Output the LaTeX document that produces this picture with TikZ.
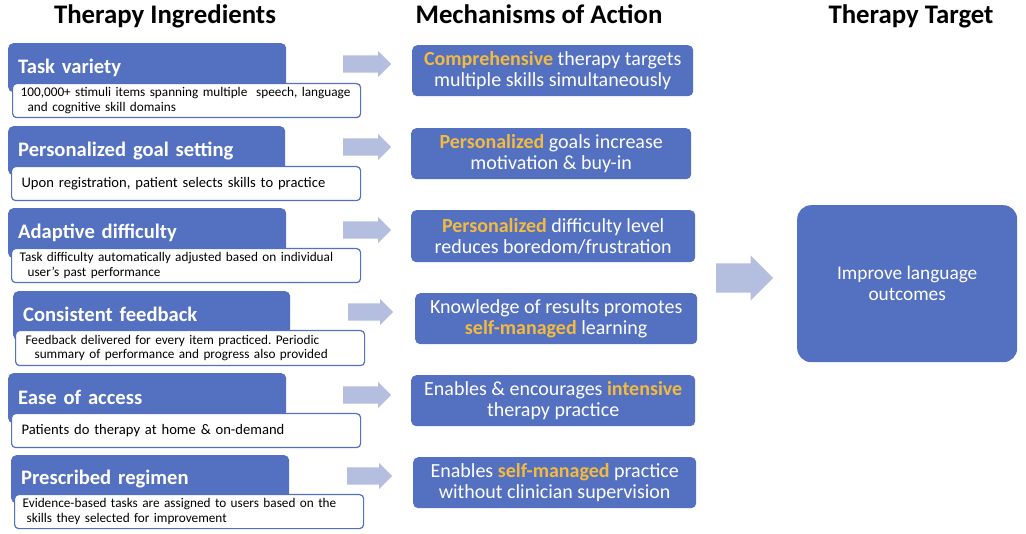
\documentclass[tikz,border=0pt]{standalone}
\usepackage{fontspec}
\setmainfont{Carlito}
\usetikzlibrary{shapes.arrows}
\definecolor{boxblue}{RGB}{84,112,192}
\definecolor{gold}{RGB}{242,186,64}
\definecolor{arrowc}{RGB}{180,190,222}
\newcommand{\gw}[1]{\textcolor{gold}{\bfseries #1}}
\frenchspacing
\begin{document}
\begin{tikzpicture}[x=1pt,y=-1pt,
 hdr/.style={fill=boxblue, rounded corners=5pt, anchor=north west, text=white,
   font=\fontsize{20.6}{24}\selectfont\bfseries, align=left, inner xsep=10pt, inner ysep=0pt},
 det/.style={fill=white, draw=boxblue, line width=1.2pt, rounded corners=4pt, anchor=north west,
   align=left, inner xsep=8pt, inner ysep=0pt, font=\fontsize{13.25}{14.5}\selectfont},
 detbig/.style={det, font=\fontsize{14.6}{17}\selectfont},
 mech/.style={fill=boxblue, rounded corners=5pt, anchor=north west, text=white, align=center,
   font=\fontsize{20}{20.5}\selectfont, inner sep=0pt},
 blk/.style={single arrow, fill=arrowc, draw=none, inner xsep=0pt, inner ysep=8.5pt,
   single arrow head extend=4.5pt, minimum height=48pt, anchor=west},
 ttl/.style={font=\fontsize{26.8}{30}\selectfont\bfseries, anchor=base, inner sep=0pt}
]
\path[use as bounding box, fill=white] (0,0) rectangle (1026,534);

% titles
\node[ttl] (t1) at (165,24) {Therapy Ingredients};
\node[ttl] (t2) at (539,24) {Mechanisms of Action};
\node[ttl] (t3) at (911,24) {Therapy Target};

% ingredient headers
\node[hdr, text width=258pt, minimum height=49pt] (h1) at (8,43) {\raisebox{2pt}{Task variety}};
\node[hdr, text width=257pt, minimum height=49pt] (h2) at (8,126) {\raisebox{2pt}{Personalized goal setting}};
\node[hdr, text width=258pt, minimum height=50pt] (h3) at (8,208) {\raisebox{2pt}{Adaptive difficulty}};
\node[hdr, text width=257pt, minimum height=49pt] (h4) at (13,291) {\raisebox{2pt}{Consistent feedback}};
\node[hdr, text width=258pt, minimum height=50pt] (h5) at (8,373) {\raisebox{2pt}{Ease of access}};
\node[hdr, text width=258pt, minimum height=48pt] (h6) at (11,455) {\raisebox{2pt}{Prescribed regimen}};

% detail boxes
\node[det, text width=332pt, minimum height=34pt] (d1) at (12,83)
  {100,000+ stimuli items spanning multiple\ \ speech, language\\\hspace*{7pt}and cognitive skill domains};
\node[detbig, text width=333pt, minimum height=34pt] (d2) at (11,166)
  {\hspace*{2pt}Upon registration, patient selects skills to practice};
\node[det, text width=333pt, minimum height=34pt] (d3) at (11,248)
  {Task difficulty automatically adjusted based on individual\\\hspace*{8pt}user’s past performance};
\node[det, text width=333pt, minimum height=35pt] (d4) at (15,330)
  {\hspace*{2pt}Feedback delivered for every item practiced. Periodic\\\hspace*{11pt}summary of performance and progress also provided};
\node[detbig, text width=333pt, minimum height=34pt] (d5) at (11,413)
  {\hspace*{2pt}Patients do therapy at home \& on-demand};
\node[det, text width=333pt, minimum height=34pt] (d6) at (14,494)
  {Evidence-based tasks are assigned to users based on the\\\hspace*{4pt}skills they selected for improvement};

% small arrows
\node[blk] (a1) at (343,64) {};
\node[blk] (a2) at (343,147) {};
\node[blk] (a3) at (343,230) {};
\node[blk, minimum height=45pt] (a4) at (348,312) {};
\node[blk] (a5) at (343,395) {};
\node[blk, minimum height=45pt] (a6) at (347,476) {};

% mechanisms
\node[mech, minimum width=281pt, minimum height=51pt] (m1) at (412,45)
  {\gw{Comprehensive} therapy targets\\multiple skills simultaneously};
\node[mech, minimum width=280pt, minimum height=51pt] (m2) at (411,128)
  {\gw{Personalized} goals increase\\motivation \& buy-in};
\node[mech, minimum width=284pt, minimum height=52pt] (m3) at (411,210)
  {\gw{Personalized} difficulty level\\reduces boredom/frustration};
\node[mech, minimum width=282pt, minimum height=51pt] (m4) at (415,293)
  {Knowledge of results promotes\\\gw{self-managed} learning};
\node[mech, minimum width=284pt, minimum height=51pt] (m5) at (411,375)
  {Enables \& encourages \gw{intensive}\\therapy practice};
\node[mech, minimum width=283pt, minimum height=51pt] (m6) at (413,457)
  {Enables \gw{self-managed} practice\\without clinician supervision};

% big arrow and target
\node[blk, inner ysep=14.5pt, single arrow head extend=8pt, minimum height=57pt] (ab) at (716,278) {};
\node[mech, rounded corners=14pt, minimum width=220pt, minimum height=157pt,
  font=\fontsize{19.3}{21}\selectfont] (tg) at (797,205) {Improve language\\outcomes};
\end{tikzpicture}
\end{document}
